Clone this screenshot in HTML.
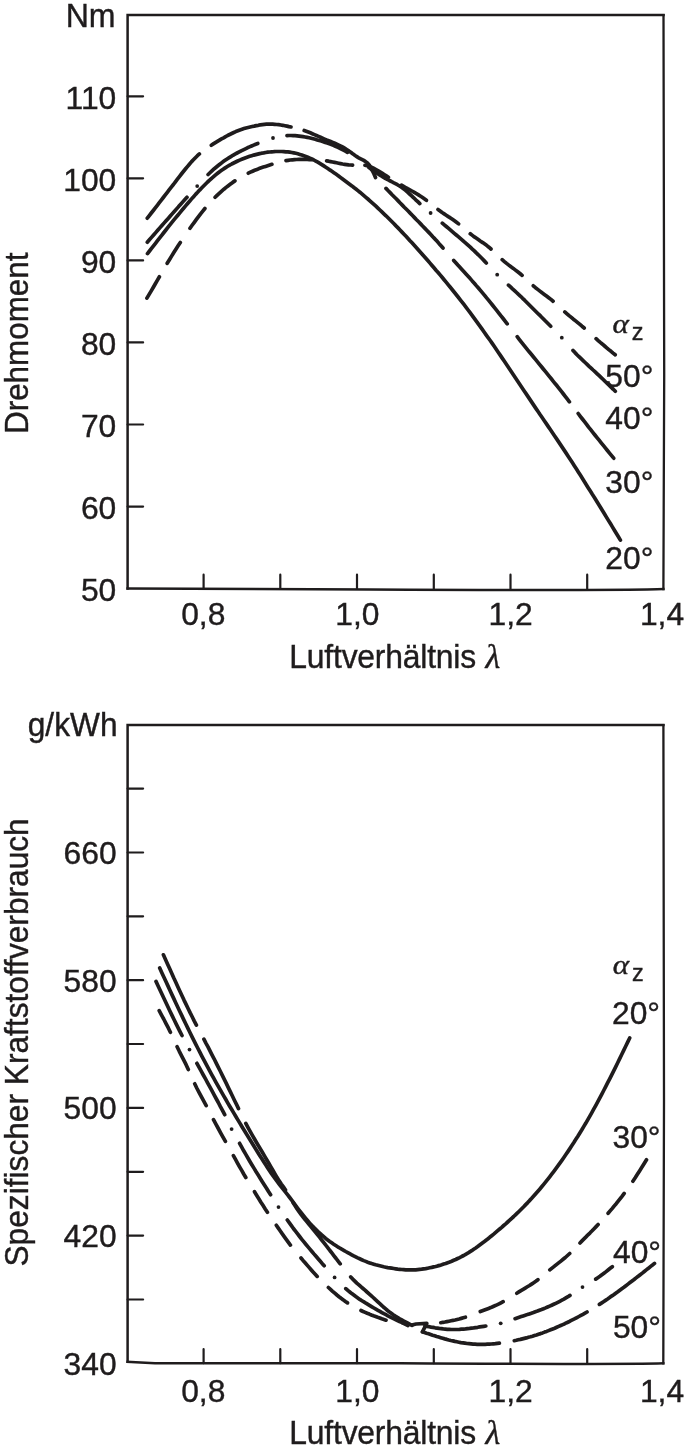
<!DOCTYPE html>
<html lang="de">
<head>
<meta charset="utf-8">
<title>Drehmoment und spezifischer Kraftstoffverbrauch über Luftverhältnis λ</title>
<style>
html,body{margin:0;padding:0;background:#fff;}
body{width:685px;height:1456px;overflow:hidden;}
svg{display:block;}
svg .gr{font-family:"Liberation Serif",serif;font-style:italic;}
svg text{font-family:"Liberation Sans",sans-serif;fill:#1f1c1d;stroke:#1f1c1d;stroke-width:0.4px;}
</style>
</head>
<body>
<svg width="685" height="1456" viewBox="0 0 685 1456">
<rect width="685" height="1456" fill="#ffffff"/>
<g id="curves">
<path d="M127.6,588.4 L127.6,15.1 L663.5,15.1" fill="none" stroke="#1f1c1d" stroke-width="2.5" stroke-linejoin="miter" stroke-linecap="square"/>
<path d="M663.5,15.1 L664.2,375 L663.4000000000001,589.0" fill="none" stroke="#1f1c1d" stroke-width="2.3" stroke-linejoin="round" stroke-linecap="square"/>
<path d="M663.4000000000001,589.0 Q620,590.6 370,589.4 L127.6,588.4" fill="none" stroke="#1f1c1d" stroke-width="2.5" stroke-linejoin="round" stroke-linecap="square"/>
<path d="M127.6,96.3 h15.5 M127.6,178.3 h15.5 M127.6,260.4 h15.5 M127.6,342.4 h15.5 M127.6,424.5 h15.5 M127.6,506.6 h15.5" stroke="#1f1c1d" stroke-width="2.2" fill="none" stroke-linecap="round"/>
<path d="M203.6,588.7 v-14 M280.3,588.7 v-14 M357.0,588.7 v-14 M433.8,588.7 v-14 M510.5,588.7 v-14 M587.2,588.7 v-14" stroke="#1f1c1d" stroke-width="2.2" fill="none" stroke-linecap="round"/>
<path d="M147.5,253.6 L149.5,251.0 L151.5,248.4 L153.5,245.8 L155.5,243.3 L157.5,240.7 L159.5,238.1 L161.5,235.6 L163.5,233.0 L165.5,230.5 L167.5,227.9 L169.5,225.4 L171.5,222.9 L173.5,220.4 L175.6,217.9 L177.6,215.5 L179.6,213.1 L181.6,210.6 L183.6,208.2 L185.6,205.9 L187.6,203.5 L189.6,201.2 L191.6,198.9 L193.6,196.7 L195.6,194.4 L197.6,192.3 L199.6,190.1 L201.6,188.0 L203.6,186.0 L205.6,184.0 L207.6,182.0 L209.6,180.2 L211.6,178.3 L213.6,176.6 L215.6,174.9 L217.6,173.3 L219.6,171.7 L221.6,170.3 L223.6,168.9 L225.6,167.6 L227.7,166.3 L229.7,165.1 L231.7,164.0 L233.7,163.0 L235.7,162.0 L237.7,161.0 L239.7,160.1 L241.7,159.3 L243.7,158.5 L245.7,157.7 L247.7,157.0 L249.7,156.3 L251.7,155.7 L253.7,155.1 L255.7,154.6 L257.7,154.1 L259.7,153.6 L261.7,153.2 L263.7,152.9 L265.7,152.5 L267.7,152.2 L269.7,152.0 L271.7,151.8 L273.7,151.7 L275.7,151.5 L277.7,151.5 L279.8,151.5 L281.8,151.5 L283.8,151.6 L285.8,151.8 L287.8,151.9 L289.8,152.2 L291.8,152.5 L293.8,152.9 L295.8,153.3 L297.8,153.8 L299.8,154.4 L301.8,155.0 L303.8,155.7 L305.8,156.4 L307.8,157.2 L309.8,158.1 L311.8,159.0 L313.8,160.0 L315.8,161.1 L317.8,162.2 L319.8,163.4 L321.8,164.6 L323.8,165.9 L325.8,167.2 L327.8,168.5 L329.8,169.9 L331.9,171.3 L333.9,172.7 L335.9,174.1 L337.9,175.5 L339.9,177.0 L341.9,178.4 L343.9,179.9 L345.9,181.4 L347.9,182.9 L349.9,184.4 L351.9,185.9 L353.9,187.5 L355.9,189.0 L357.9,190.6 L359.9,192.2 L361.9,193.9 L363.9,195.6 L365.9,197.3 L367.9,199.0 L369.9,200.8 L371.9,202.6 L373.9,204.4 L375.9,206.2 L377.9,208.1 L379.9,210.0 L381.9,211.9 L383.9,213.8 L386.0,215.8 L388.0,217.8 L390.0,219.8 L392.0,221.8 L394.0,223.8 L396.0,225.9 L398.0,227.9 L400.0,230.0 L402.0,232.1 L404.0,234.2 L406.0,236.3 L408.0,238.5 L410.0,240.7 L412.0,242.8 L414.0,245.0 L416.0,247.2 L418.0,249.5 L420.0,251.7 L422.0,254.0 L424.0,256.2 L426.0,258.5 L428.0,260.8 L430.0,263.1 L432.0,265.5 L434.0,267.8 L436.0,270.2 L438.1,272.5 L440.1,274.9 L442.1,277.3 L444.1,279.7 L446.1,282.1 L448.1,284.6 L450.1,287.0 L452.1,289.5 L454.1,292.0 L456.1,294.5 L458.1,297.0 L460.1,299.6 L462.1,302.1 L464.1,304.7 L466.1,307.3 L468.1,310.0 L470.1,312.7 L472.1,315.3 L474.1,318.1 L476.1,320.8 L478.1,323.6 L480.1,326.3 L482.1,329.1 L484.1,332.0 L486.1,334.8 L488.1,337.7 L490.2,340.5 L492.2,343.4 L494.2,346.3 L496.2,349.3 L498.2,352.2 L500.2,355.1 L502.2,358.1 L504.2,361.0 L506.2,364.0 L508.2,367.0 L510.2,370.0 L512.2,373.0 L514.2,376.0 L516.2,379.0 L518.2,382.0 L520.2,385.0 L522.2,388.0 L524.2,391.0 L526.2,393.9 L528.2,396.9 L530.2,399.9 L532.2,402.9 L534.2,405.9 L536.2,408.9 L538.2,411.8 L540.2,414.8 L542.3,417.8 L544.3,420.7 L546.3,423.6 L548.3,426.6 L550.3,429.5 L552.3,432.5 L554.3,435.5 L556.3,438.4 L558.3,441.4 L560.3,444.4 L562.3,447.4 L564.3,450.4 L566.3,453.4 L568.3,456.5 L570.3,459.5 L572.3,462.6 L574.3,465.7 L576.3,468.8 L578.3,472.0 L580.3,475.1 L582.3,478.3 L584.3,481.5 L586.3,484.7 L588.3,487.9 L590.3,491.1 L592.3,494.3 L594.4,497.5 L596.4,500.8 L598.4,504.0 L600.4,507.3 L602.4,510.5 L604.4,513.8 L606.4,517.1 L608.4,520.4 L610.4,523.6 L612.4,526.9 L614.4,530.2 L616.4,533.5 L618.4,536.8 L620.4,540.1" fill="none" stroke="#1f1c1d" stroke-width="3.7" stroke-linecap="round" stroke-linejoin="round"/>
<path d="M147.3,218.2 L149.3,215.6 L151.3,213.0 L153.3,210.5 L155.3,207.9 L157.3,205.3 L159.3,202.7 L161.3,200.1 L163.3,197.5 L165.3,194.9 L167.3,192.3 L169.3,189.7 L171.3,187.1 L173.4,184.5 L175.4,181.8 L177.4,179.2 L179.4,176.6 L181.4,174.0 L183.4,171.5 L185.4,169.0 L187.4,166.6 L189.4,164.2 L191.4,161.9 L193.4,159.8 L195.4,157.7 L197.4,155.7 L199.4,153.9 M211.3,145.2 L213.3,143.9 L215.4,142.6 L217.4,141.4 L219.5,140.1 L221.5,138.9 L223.6,137.8 L225.6,136.6 L227.6,135.5 L229.7,134.5 L231.7,133.5 L233.8,132.5 L235.8,131.6 L237.9,130.8 L239.9,130.0 L242.0,129.3 L244.0,128.6 L246.0,128.0 L248.1,127.5 L250.1,127.0 L252.2,126.5 L254.2,126.1 L256.3,125.6 L258.3,125.3 L260.3,124.9 L262.4,124.6 L264.4,124.4 L266.5,124.2 L268.5,124.1 L270.6,124.1 L272.6,124.1 L274.7,124.3 L276.7,124.5 L278.7,124.7 L280.8,125.0 L282.8,125.3 L284.9,125.7 L286.9,126.1 L289.0,126.6 L291.0,127.0 M304.2,130.5 L306.2,131.2 L308.3,132.0 L310.3,132.8 L312.3,133.7 L314.4,134.6 L316.4,135.5 L318.5,136.4 L320.5,137.3 L322.5,138.2 L324.6,139.1 L326.6,140.0 L328.6,140.8 L330.7,141.6 L332.7,142.4 L334.8,143.3 L336.8,144.2 L338.8,145.1 L340.9,146.1 L342.9,147.2 L344.9,148.4 L347.0,149.7 L349.0,151.1 L351.1,152.5 L353.1,154.1 L355.1,155.5 L357.2,156.9 L359.2,158.2 L361.2,159.2 L363.3,160.2 L365.3,161.4 L367.4,163.0 L369.4,165.3 L371.4,168.6 L373.5,172.8 L375.5,177.5" fill="none" stroke="#1f1c1d" stroke-width="3.7" stroke-linecap="round" stroke-linejoin="round"/>
<path d="M386.0,188.4 L388.0,190.5 L390.1,192.6 L392.1,194.7 L394.1,196.7 L396.2,198.8 L398.2,200.9 L400.2,203.0 L402.3,205.1 L404.3,207.2 L406.4,209.3 L408.4,211.3 L410.4,213.4 L412.5,215.5 L414.5,217.6 L416.5,219.7 L418.6,221.8 L420.6,223.9 L422.6,226.0 L424.7,228.1 L426.7,230.2 L428.8,232.4 L430.8,234.5 L432.8,236.7 L434.9,238.9 L436.9,241.1 L438.9,243.4 L441.0,245.7 L443.0,248.0 M453.7,260.4 L455.8,262.7 L457.8,265.0 L459.9,267.3 L461.9,269.5 L464.0,271.8 L466.0,274.0 L468.1,276.3 L470.2,278.6 L472.2,280.9 L474.3,283.2 L476.3,285.6 L478.4,288.0 L480.4,290.4 L482.5,292.9 L484.6,295.4 L486.6,297.9 L488.7,300.4 L490.7,302.9 L492.8,305.5 L494.9,308.1 L496.9,310.6 L499.0,313.3 L501.0,315.9 L503.1,318.5 L505.1,321.1 L507.2,323.8 M517.2,336.7 L519.2,339.3 L521.2,341.8 L523.2,344.3 L525.2,346.8 L527.2,349.3 L529.2,351.8 L531.3,354.3 L533.3,356.7 L535.3,359.2 L537.3,361.6 L539.3,364.1 L541.3,366.5 L543.3,369.0 L545.3,371.4 L547.3,373.9 L549.3,376.4 L551.3,378.8 L553.3,381.3 L555.3,383.8 L557.4,386.3 L559.4,388.9 L561.4,391.4 L563.4,394.0 L565.4,396.6 L567.4,399.2 L569.4,401.8 M578.2,413.5 L580.3,416.3 L582.4,419.0 L584.5,421.7 L586.6,424.4 L588.6,427.1 L590.7,429.7 L592.8,432.3 L594.9,435.0 L597.0,437.6 L599.1,440.2 L601.2,442.8 L603.3,445.4 L605.3,447.9 L607.4,450.5 L609.5,453.1 L611.6,455.6 L613.7,458.2" fill="none" stroke="#1f1c1d" stroke-width="3.7" stroke-linecap="round" stroke-linejoin="round"/>
<path d="M147.3,242.2 L149.4,239.8 L151.5,237.4 L153.6,235.0 L155.7,232.6 L157.7,230.3 L159.8,227.9 L161.9,225.5 L164.0,223.1 L166.1,220.7 L168.2,218.4 L170.3,216.0 L172.4,213.6 L174.5,211.3 L176.6,208.9 L178.6,206.6 L180.7,204.3 L182.8,201.9 L184.9,199.6 L187.0,197.3 M208.1,174.5 L210.2,172.5 L212.2,170.6 L214.3,168.7 L216.4,167.0 L218.5,165.3 L220.5,163.7 L222.6,162.1 L224.7,160.6 L226.7,159.2 L228.8,157.9 L230.9,156.6 L232.9,155.3 L235.0,154.1 L237.1,153.0 L239.2,151.9 L241.2,150.8 L243.3,149.8 L245.4,148.8 L247.4,147.8 L249.5,146.9 L251.6,146.0 L253.7,145.1 L255.7,144.2 L257.8,143.4 M287.0,135.6 L289.0,135.5 L291.0,135.5 L293.1,135.6 L295.1,135.7 L297.1,135.9 L299.1,136.1 L301.1,136.4 L303.1,136.7 L305.1,137.0 L307.2,137.4 L309.2,137.8 L311.2,138.3 L313.2,138.8 L315.2,139.3 L317.2,139.9 L319.3,140.5 L321.3,141.1 L323.3,141.7 L325.3,142.4 L327.3,143.0 L329.4,143.8 L331.4,144.5 L333.4,145.3 L335.4,146.2 L337.4,147.1 L339.4,148.0 L341.4,149.0 L343.5,150.1 L345.5,151.2 L347.5,152.4 M369.0,167.6 L371.0,169.1 L373.1,170.5 L375.1,171.9 L377.1,173.2 L379.2,174.6 L381.2,175.8 L383.2,177.1 L385.3,178.3 L387.3,179.4 L389.3,180.5 L391.4,181.5 L393.4,182.6 L395.4,183.6 L397.4,184.7 L399.5,186.0 L401.5,187.3 L403.5,188.8 L405.6,190.4 L407.6,192.2 L409.6,194.0 L411.7,195.9 L413.7,197.8 L415.7,199.8 L417.8,201.7 L419.8,203.6 M442.3,223.1 L444.3,224.8 L446.3,226.5 L448.3,228.2 L450.3,229.9 L452.3,231.6 L454.3,233.3 L456.3,235.0 L458.3,236.7 L460.3,238.4 L462.3,240.1 L464.3,241.9 L466.3,243.6 L468.3,245.4 L470.3,247.2 L472.3,249.1 L474.3,250.9 L476.3,252.9 L478.3,254.8 L480.3,256.8 L482.3,258.8 L484.3,260.9 L486.3,263.0 M508.5,285.1 L510.5,286.9 L512.5,288.8 L514.5,290.6 L516.5,292.5 L518.5,294.4 L520.6,296.3 L522.6,298.3 L524.6,300.2 L526.6,302.2 L528.6,304.2 L530.6,306.2 L532.6,308.2 L534.6,310.2 L536.6,312.2 L538.6,314.2 L540.7,316.2 L542.7,318.2 L544.7,320.3 L546.7,322.3 L548.7,324.3 L550.7,326.3 M573.0,350.4 L575.0,352.6 L577.0,354.7 L579.0,356.7 L581.1,358.7 L583.1,360.6 L585.1,362.5 L587.1,364.4 L589.1,366.3 L591.1,368.1 L593.1,370.0 L595.2,371.9 L597.2,373.8 L599.2,375.7 L601.2,377.6 L603.2,379.5 L605.2,381.5 L607.2,383.4 L609.3,385.4 L611.3,387.4 L613.3,389.3 L615.3,391.3" fill="none" stroke="#1f1c1d" stroke-width="3.7" stroke-linecap="round" stroke-linejoin="round"/>
<circle cx="197.2" cy="186.1" r="1.9" fill="#1f1c1d"/>
<circle cx="273.0" cy="138.0" r="1.9" fill="#1f1c1d"/>
<circle cx="430.6" cy="213.0" r="1.9" fill="#1f1c1d"/>
<circle cx="497.2" cy="274.7" r="1.9" fill="#1f1c1d"/>
<circle cx="561.8" cy="337.7" r="1.9" fill="#1f1c1d"/>
<path d="M146.9,298.1 L149.0,294.6 L151.1,291.1 L153.2,287.5 L155.2,284.0 L157.3,280.4 L159.4,276.8 M167.2,263.3 L169.4,259.7 L171.6,256.1 L173.8,252.6 L175.9,249.2 L178.1,245.8 L180.3,242.5 M190.0,228.3 L192.1,225.3 L194.3,222.3 L196.4,219.4 L198.5,216.6 L200.6,213.8 L202.8,211.1 L204.9,208.5 M215.1,197.3 L217.3,195.1 L219.5,193.1 L221.7,191.1 L223.9,189.2 L226.1,187.4 L228.3,185.7 L230.5,184.0 L232.7,182.4 L234.9,180.9 M248.3,173.2 L250.4,172.2 L252.6,171.2 L254.7,170.3 L256.9,169.5 L259.0,168.6 L261.2,167.8 L263.3,167.1 L265.5,166.4 L267.6,165.7 L269.8,165.0 L271.9,164.3 M286.0,160.6 L288.1,160.3 L290.2,160.0 L292.4,159.8 L294.5,159.6 L296.6,159.5 L298.8,159.4 L300.9,159.4 L303.0,159.4 L305.1,159.5 L307.2,159.5 L309.4,159.6 L311.5,159.7 M326.6,160.9 L328.6,161.2 L330.6,161.6 L332.6,162.0 L334.6,162.4 L336.6,162.8 L338.6,163.2 L340.6,163.6 L342.6,164.0 L344.6,164.3 L346.6,164.6 L348.6,164.9 L350.6,165.0 L352.6,165.1 M365.0,165.3 L367.1,165.8 L369.3,166.4 L371.4,167.2 L373.5,168.2 L375.6,169.3 L377.8,170.5 L379.9,171.8 L382.0,173.1 L384.1,174.5 L386.3,175.9 L388.4,177.3 M401.5,185.2 L403.6,186.4 L405.6,187.5 L407.7,188.7 L409.8,189.8 L411.9,191.0 L413.9,192.2 L416.0,193.4 L418.1,194.6 L420.2,196.0 L422.2,197.3 L424.3,198.8 L426.4,200.3 M438.0,209.5 L440.1,211.0 L442.1,212.5 L444.2,213.9 L446.2,215.2 L448.3,216.6 L450.4,217.9 L452.4,219.3 L454.5,220.8 L456.5,222.3 L458.6,223.9 M470.3,233.8 L472.4,235.4 L474.4,236.9 L476.5,238.3 L478.6,239.8 L480.6,241.2 L482.7,242.6 L484.8,244.1 L486.9,245.6 L488.9,247.2 L491.0,249.0 M502.2,259.7 L504.4,261.6 L506.6,263.4 L508.8,265.1 L511.0,266.8 L513.3,268.4 L515.5,270.1 L517.7,271.8 L519.9,273.5 L522.1,275.4 M533.3,285.8 L535.5,287.7 L537.7,289.4 L539.9,291.1 L542.1,292.8 L544.3,294.4 L546.5,296.0 L548.7,297.7 L550.9,299.4 L553.1,301.2 M564.8,311.9 L567.0,313.8 L569.1,315.6 L571.3,317.4 L573.4,319.2 L575.6,320.9 L577.7,322.6 L579.9,324.4 L582.0,326.2 L584.2,328.0 M596.1,338.7 L598.2,340.6 L600.3,342.4 L602.5,344.2 L604.6,346.0 L606.7,347.8 L608.8,349.6 L611.0,351.3 L613.1,353.1 L615.2,354.8" fill="none" stroke="#1f1c1d" stroke-width="3.7" stroke-linecap="round" stroke-linejoin="round"/>
<path d="M127.6,1361.8 L127.6,725.1 L663.4,725.1" fill="none" stroke="#1f1c1d" stroke-width="2.5" stroke-linejoin="miter" stroke-linecap="square"/>
<path d="M663.4,725.1 L664.0,1100 L663.3000000000001,1363.3" fill="none" stroke="#1f1c1d" stroke-width="2.3" stroke-linejoin="round" stroke-linecap="square"/>
<path d="M663.3000000000001,1363.3 Q620,1364.6 400,1363.2 L155,1363.3 L127.6,1361.8" fill="none" stroke="#1f1c1d" stroke-width="2.5" stroke-linejoin="round" stroke-linecap="square"/>
<path d="M127.6,788.6 h15.5 M127.6,852.5 h15.5 M127.6,916.3 h15.5 M127.6,980.2 h15.5 M127.6,1044.0 h15.5 M127.6,1107.9 h15.5 M127.6,1171.8 h15.5 M127.6,1235.6 h15.5 M127.6,1299.5 h15.5" stroke="#1f1c1d" stroke-width="2.2" fill="none" stroke-linecap="round"/>
<path d="M203.6,1363.2 v-14 M280.3,1363.2 v-14 M357.0,1363.2 v-14 M433.8,1363.2 v-14 M510.5,1363.2 v-14 M587.2,1363.2 v-14" stroke="#1f1c1d" stroke-width="2.2" fill="none" stroke-linecap="round"/>
<path d="M159.7,968.0 L161.7,972.4 L163.7,976.7 L165.7,981.1 L167.7,985.4 L169.7,989.8 L171.7,994.1 L173.7,998.4 L175.7,1002.7 L177.7,1007.0 L179.7,1011.2 L181.7,1015.4 L183.7,1019.6 L185.7,1023.8 L187.7,1027.9 L189.7,1032.0 L191.7,1036.1 L193.7,1040.1 L195.7,1044.1 L197.7,1048.0 L199.7,1051.9 L201.7,1055.8 L203.7,1059.6 L205.7,1063.4 L207.7,1067.2 L209.7,1070.9 L211.7,1074.6 L213.7,1078.2 L215.7,1081.8 L217.7,1085.4 L219.7,1088.9 L221.7,1092.4 L223.7,1095.9 L225.7,1099.3 L227.7,1102.8 L229.7,1106.2 L231.7,1109.5 L233.7,1112.9 L235.7,1116.2 L237.7,1119.6 L239.7,1122.9 L241.7,1126.2 L243.7,1129.4 L245.7,1132.7 L247.7,1136.0 L249.7,1139.2 L251.7,1142.5 L253.7,1145.7 L255.7,1148.9 L257.7,1152.2 L259.7,1155.4 L261.7,1158.6 L263.7,1161.7 L265.7,1164.8 L267.7,1167.9 L269.7,1170.9 L271.7,1173.9 L273.7,1176.7 L275.7,1179.5 L277.7,1182.2 L279.7,1184.8 L281.7,1187.3 L283.7,1189.8 L285.7,1192.3 L287.7,1194.9 L289.7,1197.5 L291.7,1200.2 L293.7,1202.9 L295.7,1205.6 L297.7,1208.3 L299.7,1210.9 L301.7,1213.5 L303.7,1216.0 L305.7,1218.4 L307.7,1220.8 L309.7,1223.1 L311.7,1225.3 L313.7,1227.4 L315.7,1229.4 L317.7,1231.4 L319.7,1233.2 L321.7,1235.0 L323.7,1236.7 L325.7,1238.4 L327.7,1239.9 L329.7,1241.4 L331.7,1242.8 L333.7,1244.2 L335.7,1245.5 L337.7,1246.8 L339.7,1248.0 L341.7,1249.2 L343.7,1250.3 L345.7,1251.5 L347.7,1252.6 L349.7,1253.7 L351.7,1254.8 L353.7,1255.9 L355.7,1256.9 L357.7,1257.9 L359.7,1258.8 L361.7,1259.7 L363.7,1260.6 L365.7,1261.4 L367.7,1262.2 L369.7,1262.9 L371.7,1263.6 L373.7,1264.2 L375.7,1264.8 L377.7,1265.3 L379.7,1265.8 L381.7,1266.3 L383.7,1266.8 L385.7,1267.2 L387.7,1267.6 L389.7,1267.9 L391.7,1268.2 L393.7,1268.5 L395.7,1268.8 L397.7,1269.1 L399.7,1269.3 L401.7,1269.5 L403.7,1269.6 L405.7,1269.8 L407.7,1269.8 L409.7,1269.9 L411.7,1269.9 L413.7,1269.8 L415.7,1269.8 L417.7,1269.6 L419.7,1269.4 L421.7,1269.2 L423.7,1268.9 L425.7,1268.6 L427.7,1268.2 L429.7,1267.8 L431.7,1267.4 L433.7,1266.9 L435.7,1266.5 L437.7,1265.9 L439.7,1265.4 L441.7,1264.8 L443.7,1264.1 L445.7,1263.5 L447.7,1262.7 L449.7,1262.0 L451.7,1261.2 L453.7,1260.3 L455.7,1259.5 L457.7,1258.5 L459.7,1257.6 L461.7,1256.5 L463.7,1255.5 L465.7,1254.3 L467.7,1253.2 L469.7,1251.9 L471.7,1250.7 L473.7,1249.3 L475.7,1248.0 L477.7,1246.6 L479.7,1245.1 L481.7,1243.6 L483.7,1242.1 L485.7,1240.5 L487.7,1239.0 L489.7,1237.3 L491.7,1235.7 L493.7,1234.1 L495.7,1232.4 L497.7,1230.7 L499.7,1229.0 L501.7,1227.3 L503.7,1225.5 L505.7,1223.8 L507.7,1222.0 L509.7,1220.2 L511.7,1218.3 L513.7,1216.5 L515.7,1214.6 L517.7,1212.7 L519.7,1210.7 L521.7,1208.7 L523.7,1206.7 L525.7,1204.6 L527.7,1202.6 L529.7,1200.4 L531.7,1198.3 L533.7,1196.1 L535.7,1193.8 L537.7,1191.5 L539.7,1189.2 L541.7,1186.8 L543.7,1184.4 L545.7,1181.9 L547.7,1179.4 L549.7,1176.8 L551.7,1174.2 L553.7,1171.6 L555.7,1168.9 L557.7,1166.2 L559.7,1163.4 L561.7,1160.6 L563.7,1157.7 L565.7,1154.8 L567.7,1151.9 L569.7,1148.9 L571.7,1145.8 L573.7,1142.8 L575.7,1139.6 L577.7,1136.5 L579.7,1133.2 L581.7,1130.0 L583.7,1126.6 L585.7,1123.3 L587.7,1119.8 L589.7,1116.3 L591.7,1112.8 L593.7,1109.2 L595.7,1105.6 L597.7,1101.9 L599.7,1098.1 L601.7,1094.3 L603.7,1090.5 L605.7,1086.6 L607.7,1082.7 L609.7,1078.8 L611.7,1074.8 L613.7,1070.8 L615.7,1066.8 L617.7,1062.7 L619.7,1058.6 L621.7,1054.5 L623.7,1050.4 L625.7,1046.3 L627.7,1042.1 L629.7,1038.0" fill="none" stroke="#1f1c1d" stroke-width="3.7" stroke-linecap="round" stroke-linejoin="round"/>
<path d="M163.4,954.8 L165.5,959.4 L167.5,964.0 L169.6,968.6 L171.7,973.2 L173.7,977.8 L175.8,982.3 L177.8,986.8 L179.9,991.3 L182.0,995.7 L184.0,1000.1 L186.1,1004.4 L188.2,1008.7 L190.2,1012.9 L192.3,1017.0 L194.3,1021.1 L196.4,1025.1 M203.9,1039.2 L205.9,1043.1 L208.0,1046.9 L210.0,1050.9 L212.0,1054.8 L214.1,1058.8 L216.1,1062.9 L218.1,1066.9 L220.2,1071.0 L222.2,1075.1 L224.3,1079.3 L226.3,1083.4 L228.3,1087.6 L230.4,1091.8 L232.4,1096.0 L234.4,1100.2 L236.5,1104.4 L238.5,1108.6 M245.8,1123.4 L247.9,1127.4 L250.0,1131.2 L252.1,1134.9 L254.2,1138.5 L256.2,1142.0 L258.3,1145.5 L260.4,1149.0 L262.5,1152.5 L264.6,1156.1 L266.7,1159.7 L268.8,1163.3 L270.9,1166.9 L273.0,1170.5 L275.1,1174.1 L277.1,1177.6 L279.2,1180.9 L281.3,1184.0 L283.4,1186.9 L285.5,1190.0 M293.0,1202.5 L295.1,1205.8 L297.1,1208.9 L299.2,1211.8 L301.2,1214.6 L303.3,1217.3 L305.3,1219.9 L307.4,1222.4 L309.4,1224.9 L311.5,1227.4 L313.5,1229.9 L315.6,1232.4 L317.6,1234.9 L319.7,1237.4 L321.7,1240.0 L323.8,1242.6 L325.8,1245.2 L327.9,1247.8 L329.9,1250.5 L332.0,1253.2 L334.0,1255.8 L336.1,1258.5 L338.1,1261.2 L340.2,1263.9 M350.7,1276.9 L352.7,1279.1 L354.8,1281.1 L356.8,1283.1 L358.9,1284.9 L360.9,1286.7 L363.0,1288.5 L365.0,1290.2 L367.0,1292.0 L369.1,1293.8 L371.1,1295.6 L373.2,1297.5 L375.2,1299.4 L377.3,1301.3 L379.3,1303.2 L381.4,1305.1 L383.4,1307.0 L385.4,1308.7 L387.5,1310.5 L389.5,1312.1 L391.6,1313.6 L393.6,1315.0 L395.7,1316.4 L397.7,1317.6 L399.7,1318.9 L401.8,1320.0 L403.8,1321.1 L405.9,1322.2 L407.9,1323.2 L410.0,1324.3 L412.0,1325.3" fill="none" stroke="#1f1c1d" stroke-width="3.7" stroke-linecap="round" stroke-linejoin="round"/>
<path d="M412,1325 L416,1324 L426.8,1323.4 L422.4,1331.8" fill="none" stroke="#1f1c1d" stroke-width="3.7" stroke-linecap="round" stroke-linejoin="round"/>
<path d="M156.0,981.4 L158.0,985.7 L160.0,990.0 L162.0,994.3 L164.0,998.5 L166.0,1002.8 L168.0,1007.0 L170.0,1011.2 L172.0,1015.4 L174.0,1019.5 L176.0,1023.6 L178.0,1027.6 L180.0,1031.6 L182.0,1035.5 M196.9,1063.3 L199.0,1067.2 L201.2,1071.1 L203.3,1075.0 L205.5,1078.9 L207.6,1082.8 L209.7,1086.7 L211.9,1090.6 L214.0,1094.6 L216.1,1098.5 L218.3,1102.5 L220.4,1106.6 L222.6,1110.6 L224.7,1114.7 M239.6,1143.3 L241.7,1147.1 L243.7,1150.8 L245.8,1154.4 L247.9,1158.0 L249.9,1161.5 L252.0,1165.0 L254.1,1168.4 L256.1,1171.8 L258.2,1175.1 L260.3,1178.5 L262.3,1181.7 L264.4,1185.0 L266.5,1188.2 L268.5,1191.5 L270.6,1194.7 M287.3,1220.0 L289.4,1222.9 L291.4,1225.7 L293.4,1228.5 L295.5,1231.2 L297.6,1233.9 L299.6,1236.5 L301.6,1239.1 L303.7,1241.7 L305.8,1244.2 L307.8,1246.6 L309.9,1249.1 L311.9,1251.5 L313.9,1253.9 L316.0,1256.3 L318.1,1258.7 L320.1,1261.0 L322.1,1263.4 L324.2,1265.7 M345.8,1288.6 L347.8,1290.4 L349.8,1292.0 L351.8,1293.6 L353.8,1295.1 L355.8,1296.6 L357.8,1298.0 L359.8,1299.4 L361.9,1300.7 L363.9,1301.9 L365.9,1303.2 L367.9,1304.4 L369.9,1305.6 L371.9,1306.8 L373.9,1308.0 L375.9,1309.2 L377.9,1310.3 L379.9,1311.4 L381.9,1312.6 L383.9,1313.7 L385.9,1314.7 L387.9,1315.8 L389.9,1316.8 L391.9,1317.8 L394.0,1318.8 L396.0,1319.8 L398.0,1320.8 L400.0,1321.7 L402.0,1322.7 L404.0,1323.6 L406.0,1324.6 L408.0,1325.5" fill="none" stroke="#1f1c1d" stroke-width="3.7" stroke-linecap="round" stroke-linejoin="round"/>
<circle cx="189.5" cy="1049.6" r="1.9" fill="#1f1c1d"/>
<circle cx="231.6" cy="1129.1" r="1.9" fill="#1f1c1d"/>
<circle cx="278.5" cy="1207.1" r="1.9" fill="#1f1c1d"/>
<circle cx="334.6" cy="1277.4" r="1.9" fill="#1f1c1d"/>
<path d="M159.2,1010.7 L161.4,1014.8 L163.7,1019.0 L165.9,1023.3 L168.2,1027.7 L170.4,1032.3 M177.1,1046.7 L179.3,1051.3 L181.6,1055.8 L183.8,1060.2 L186.1,1064.7 L188.3,1069.5 M194.7,1083.8 L197.0,1088.5 L199.3,1092.9 L201.6,1097.2 L203.9,1101.4 L206.2,1105.6 M213.5,1119.7 L215.9,1124.2 L218.3,1128.5 L220.6,1132.8 L223.0,1137.1 L225.4,1141.3 M233.4,1155.7 L235.5,1159.4 L237.5,1163.1 L239.6,1166.8 L241.7,1170.4 L243.7,1174.0 L245.8,1177.5 M254.5,1191.7 L256.6,1195.2 L258.8,1198.7 L260.9,1202.2 L263.1,1205.6 L265.2,1209.0 L267.4,1212.3 M276.3,1225.2 L278.3,1228.1 L280.3,1231.0 L282.3,1233.9 L284.4,1236.8 L286.4,1239.6 L288.4,1242.4 L290.4,1245.1 M301.0,1258.0 L303.0,1260.4 L305.1,1262.7 L307.1,1265.1 L309.1,1267.4 L311.1,1269.7 L313.1,1272.0 L315.2,1274.2 L317.2,1276.4 M328.4,1287.5 L330.5,1289.4 L332.6,1291.3 L334.8,1293.2 L336.9,1295.0 L339.0,1296.7 L341.1,1298.3 L343.3,1299.9 L345.4,1301.5 L347.5,1302.9 M361.0,1310.5 L363.1,1311.5 L365.2,1312.4 L367.2,1313.3 L369.3,1314.1 L371.4,1315.0 L373.5,1315.8 L375.6,1316.5 L377.7,1317.3 L379.8,1318.0 L381.8,1318.8 L383.9,1319.5 L386.0,1320.2" fill="none" stroke="#1f1c1d" stroke-width="3.7" stroke-linecap="round" stroke-linejoin="round"/>
<path d="M440.8,1322.7 L442.9,1322.3 L444.9,1322.0 L446.9,1321.6 L449.0,1321.2 L451.1,1320.8 L453.1,1320.4 L455.1,1320.0 L457.2,1319.5 L459.2,1319.0 L461.3,1318.4 L463.3,1317.8 L465.4,1317.2 M480.3,1311.6 L482.4,1310.8 L484.4,1310.0 L486.5,1309.2 L488.6,1308.4 L490.7,1307.6 L492.7,1306.7 L494.8,1305.8 L496.9,1304.9 L499.0,1303.9 L501.0,1302.8 L503.1,1301.7 M516.8,1293.2 L518.9,1291.9 L521.0,1290.6 L523.1,1289.4 L525.2,1288.1 L527.3,1286.8 L529.5,1285.5 L531.6,1284.1 L533.7,1282.7 L535.8,1281.3 L537.9,1279.7 M549.8,1269.9 L552.0,1268.1 L554.2,1266.4 L556.4,1264.6 L558.6,1262.9 L560.9,1261.1 L563.1,1259.3 L565.3,1257.5 L567.5,1255.5 L569.7,1253.5 M580.0,1243.0 L582.0,1240.9 L584.0,1238.9 L586.0,1236.9 L588.0,1234.8 L590.1,1232.8 L592.1,1230.8 L594.1,1228.7 L596.1,1226.6 L598.1,1224.5 M608.1,1213.3 L610.1,1210.9 L612.1,1208.6 L614.1,1206.1 L616.2,1203.7 L618.2,1201.2 L620.2,1198.6 L622.2,1196.1 L624.2,1193.4 M632.9,1181.2 L635.2,1177.8 L637.4,1174.3 L639.7,1170.7 L642.0,1167.1 L644.2,1163.5 L646.5,1159.8" fill="none" stroke="#1f1c1d" stroke-width="3.7" stroke-linecap="round" stroke-linejoin="round"/>
<path d="M425.0,1326.0 L427.0,1326.4 L429.1,1326.7 L431.1,1327.1 L433.1,1327.4 L435.1,1327.8 L437.2,1328.1 L439.2,1328.4 L441.2,1328.6 L443.2,1328.9 L445.3,1329.1 L447.3,1329.3 L449.3,1329.4 L451.3,1329.5 L453.4,1329.5 L455.4,1329.5 L457.4,1329.5 L459.5,1329.4 L461.5,1329.2 L463.5,1329.1 L465.5,1328.9 L467.6,1328.6 L469.6,1328.4 L471.6,1328.1 L473.6,1327.9 L475.7,1327.6 L477.7,1327.3 L479.7,1326.9 L481.7,1326.6 L483.8,1326.3 L485.8,1326.0 M515.1,1318.7 L517.1,1318.0 L519.2,1317.3 L521.2,1316.6 L523.2,1315.9 L525.3,1315.2 L527.3,1314.6 L529.3,1313.9 L531.4,1313.2 L533.4,1312.5 L535.4,1311.7 L537.5,1311.0 L539.5,1310.2 L541.5,1309.5 L543.6,1308.7 L545.6,1307.9 L547.6,1307.0 L549.7,1306.1 L551.7,1305.2 L553.7,1304.3 L555.8,1303.3 L557.8,1302.3 L559.8,1301.3 L561.9,1300.2 L563.9,1299.1 L565.9,1297.9 L568.0,1296.7 L570.0,1295.4 M595.7,1279.1 L597.8,1277.7 L599.9,1276.3 L601.9,1274.8 L604.0,1273.2 L606.1,1271.6 L608.1,1270.0 L610.2,1268.3 L612.3,1266.7" fill="none" stroke="#1f1c1d" stroke-width="3.7" stroke-linecap="round" stroke-linejoin="round"/>
<circle cx="500.7" cy="1323.3" r="1.9" fill="#1f1c1d"/>
<circle cx="582.5" cy="1287.1" r="1.9" fill="#1f1c1d"/>
<path d="M422.5,1331.8 L424.5,1332.5 L426.5,1333.2 L428.6,1333.8 L430.6,1334.5 L432.6,1335.2 L434.6,1335.8 L436.7,1336.5 L438.7,1337.1 L440.7,1337.7 L442.7,1338.3 L444.8,1338.9 L446.8,1339.4 L448.8,1340.0 L450.8,1340.5 L452.9,1340.9 L454.9,1341.4 L456.9,1341.8 L458.9,1342.2 L460.9,1342.6 L463.0,1342.9 L465.0,1343.2 L467.0,1343.5 L469.0,1343.7 L471.1,1343.9 L473.1,1344.1 L475.1,1344.2 L477.1,1344.3 L479.2,1344.4 L481.2,1344.4 L483.2,1344.4 L485.2,1344.3 L487.3,1344.2 L489.3,1344.1 L491.3,1344.0 L493.3,1343.8 L495.4,1343.6 L497.4,1343.3 L499.4,1343.1 M514.3,1340.7 L516.3,1340.3 L518.3,1339.8 L520.4,1339.4 L522.4,1338.9 L524.4,1338.4 L526.4,1337.9 L528.4,1337.3 L530.5,1336.8 L532.5,1336.2 L534.5,1335.5 L536.5,1334.9 L538.5,1334.2 L540.6,1333.6 L542.6,1332.9 L544.6,1332.1 L546.6,1331.4 L548.6,1330.6 L550.6,1329.8 L552.7,1329.0 L554.7,1328.2 L556.7,1327.3 L558.7,1326.4 L560.7,1325.5 L562.8,1324.6 L564.8,1323.7 L566.8,1322.7 L568.8,1321.8 L570.8,1320.7 L572.9,1319.7 L574.9,1318.7 L576.9,1317.6 L578.9,1316.5 L580.9,1315.4 L583.0,1314.3 L585.0,1313.2 L587.0,1312.0 M599.4,1304.4 L601.4,1303.1 L603.5,1301.7 L605.5,1300.4 L607.6,1299.0 L609.6,1297.6 L611.6,1296.1 L613.7,1294.7 L615.7,1293.2 L617.8,1291.7 L619.8,1290.2 L621.8,1288.7 L623.9,1287.2 L625.9,1285.7 L628.0,1284.1 L630.0,1282.6 L632.1,1281.0 L634.1,1279.5 L636.1,1277.9 L638.2,1276.3 L640.2,1274.7 L642.3,1273.1 L644.3,1271.5 L646.3,1269.9 L648.4,1268.3 L650.4,1266.6 L652.5,1265.0 L654.5,1263.4" fill="none" stroke="#1f1c1d" stroke-width="3.7" stroke-linecap="round" stroke-linejoin="round"/>
</g>
<g id="labels">
<text transform="translate(115.6,27) scale(0.985,1)" font-size="32.6" text-anchor="end" >Nm</text>
<text x="116.3" y="108.9" font-size="31.8" text-anchor="end" >110</text>
<text x="116.3" y="190.9" font-size="31.8" text-anchor="end" >100</text>
<text x="116.3" y="273.0" font-size="31.8" text-anchor="end" >90</text>
<text x="116.3" y="355.1" font-size="31.8" text-anchor="end" >80</text>
<text x="116.3" y="437.1" font-size="31.8" text-anchor="end" >70</text>
<text x="116.3" y="519.1" font-size="31.8" text-anchor="end" >60</text>
<text x="116.3" y="601.3" font-size="31.8" text-anchor="end" >50</text>
<text x="203.3" y="625.0" font-size="31.8" text-anchor="middle" >0,8</text>
<text x="203.3" y="1401.6" font-size="31.8" text-anchor="middle" >0,8</text>
<text x="357.4" y="625.0" font-size="31.8" text-anchor="middle" >1,0</text>
<text x="357.4" y="1401.6" font-size="31.8" text-anchor="middle" >1,0</text>
<text x="510.7" y="625.0" font-size="31.8" text-anchor="middle" >1,2</text>
<text x="510.7" y="1401.6" font-size="31.8" text-anchor="middle" >1,2</text>
<text x="662.0" y="625.0" font-size="31.8" text-anchor="middle" >1,4</text>
<text x="662.0" y="1401.6" font-size="31.8" text-anchor="middle" >1,4</text>
<text transform="translate(289.3,668.2) scale(0.977,1)" font-size="32.6" text-anchor="start" letter-spacing="-0.2">Luftverhältnis</text>
<text transform="translate(485.6,668.2) scale(1.02,1)" font-size="33.4" text-anchor="start" class="gr">λ</text>
<text transform="translate(289.3,1444.2) scale(0.977,1)" font-size="32.6" text-anchor="start" letter-spacing="-0.2">Luftverhältnis</text>
<text transform="translate(485.6,1444.2) scale(1.02,1)" font-size="33.4" text-anchor="start" class="gr">λ</text>
<text transform="translate(28.1,434) rotate(-90) scale(0.964,1)" font-size="32.6" text-anchor="start" >Drehmoment</text>
<text transform="translate(28.3,1266.5) rotate(-90) scale(0.972,1)" font-size="32.6" text-anchor="start" >Spezifischer Kraftstoffverbrauch</text>
<text transform="translate(117.5,736.4) scale(0.972,1)" font-size="32.6" text-anchor="end" >g/kWh</text>
<text x="116.6" y="863.9" font-size="31.8" text-anchor="end" >660</text>
<text x="116.6" y="991.6" font-size="31.8" text-anchor="end" >580</text>
<text x="116.6" y="1119.3" font-size="31.8" text-anchor="end" >500</text>
<text x="116.6" y="1247.0" font-size="31.8" text-anchor="end" >420</text>
<text x="116.6" y="1374.8" font-size="31.8" text-anchor="end" >340</text>
<text transform="translate(612.5,333.3) scale(1.13,1)" font-size="27.6" class="gr">α</text><text x="631.8" y="340.1" font-size="23.4">z</text>
<text x="605.3" y="386.6" font-size="31.8" text-anchor="start" >50°</text>
<text x="605.3" y="429.2" font-size="31.8" text-anchor="start" >40°</text>
<text x="605.3" y="492.6" font-size="31.8" text-anchor="start" >30°</text>
<text x="605.3" y="569.2" font-size="31.8" text-anchor="start" >20°</text>
<text transform="translate(612.7,974.2) scale(1.13,1)" font-size="27.6" class="gr">α</text><text x="632.0" y="981.0" font-size="23.4">z</text>
<text x="612" y="1023.7" font-size="31.8" text-anchor="start" >20°</text>
<text x="612.5" y="1147.8" font-size="31.8" text-anchor="start" >30°</text>
<text x="613" y="1263.0" font-size="31.8" text-anchor="start" >40°</text>
<text x="612.9" y="1338.1" font-size="31.8" text-anchor="start" >50°</text>
</g>
</svg>
</body>
</html>
